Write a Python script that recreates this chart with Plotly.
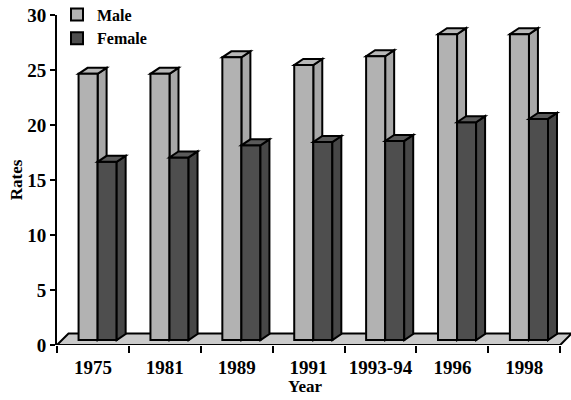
import plotly.graph_objects as go

years = ["1975", "1981", "1989", "1991", "1993-94", "1996", "1998"]
male = [24.2, 24.2, 25.7, 25.0, 25.8, 27.8, 27.8]
female = [16.2, 16.6, 17.7, 18.0, 18.1, 19.8, 20.1]

# 3D styling parameters (in axis units)
BASE = 0.45      # bars sit slightly back on the floor
BW = 0.265       # bar front width
M_OFF = -0.20    # male offset from category centre
F_OFF = 0.065    # female offset
BDX, BDY = 0.125, 0.55   # bar depth
FDX, FDY = 0.16, 1.05    # floor depth

MALE_C = "#b2b2b2"
FEM_C = "#4e4e4e"
FLOOR_C = "#cacaca"
LW = 2
SERIF = "Liberation Serif, Times New Roman, serif"

fig = go.Figure()
fig.add_trace(go.Bar(x=years, y=male, base=BASE, offset=M_OFF, width=BW, name="Male",
                     marker=dict(color=MALE_C, line=dict(color="black", width=LW))))
fig.add_trace(go.Bar(x=years, y=female, base=BASE, offset=F_OFF, width=BW, name="Female",
                     marker=dict(color=FEM_C, line=dict(color="black", width=LW))))

shapes = []
n = len(years)
# floor
shapes.append(dict(type="path", xref="x", yref="y", layer="below",
                   path=f"M {-0.5},0 L {n-0.5},0 L {n-0.5+FDX},{FDY} L {-0.5+FDX},{FDY} Z",
                   fillcolor=FLOOR_C, line=dict(color="black", width=LW)))

def faces(i, off, val, color, side_color, layer):
    x0 = i + off
    x1 = x0 + BW
    b = BASE
    t = BASE + val
    side = f"M {x1},{b} L {x1+BDX},{b+BDY} L {x1+BDX},{t+BDY} L {x1},{t} Z"
    top = f"M {x0},{t} L {x1},{t} L {x1+BDX},{t+BDY} L {x0+BDX},{t+BDY} Z"
    return [dict(type="path", xref="x", yref="y", layer=layer, path=side,
                 fillcolor=side_color, line=dict(color="black", width=LW)),
            dict(type="path", xref="x", yref="y", layer=layer, path=top,
                 fillcolor=color, line=dict(color="black", width=LW))]

for i in range(n):
    shapes += faces(i, M_OFF, male[i], "#b8b8b8", "#a8a8a8", "below")
for i in range(n):
    shapes += faces(i, F_OFF, female[i], "#5a5a5a", "#474747", "above")

tick_font = dict(family=SERIF, size=19, color="black", weight="bold")
leg_font = dict(family=SERIF, size=16, color="black", weight="bold")
title_font = dict(family=SERIF, size=17, color="black", weight="bold")

fig.update_layout(
    width=571, height=400,
    margin=dict(l=57, r=0, t=15, b=55, autoexpand=False),
    paper_bgcolor="white", plot_bgcolor="white",
    barmode="overlay",
    shapes=shapes,
    showlegend=True,
    legend=dict(x=0.0, y=1.053, xanchor="left", yanchor="top",
                font=leg_font, bgcolor="rgba(0,0,0,0)", tracegroupgap=0,
                itemwidth=30),
    xaxis=dict(type="category", categoryorder="array", categoryarray=years,
               range=[-0.5, n - 0.5 + 0.15], showline=False, showgrid=False,
               zeroline=False, ticks="outside", tickson="boundaries",
               ticklen=7, tickwidth=2, tickcolor="black", automargin=False,
               tickangle=0, tickfont=tick_font, ticklabelstandoff=9),
    yaxis=dict(range=[0, 30], dtick=5, showline=True, linewidth=2, linecolor="black",
               showgrid=False, zeroline=False, ticks="outside", ticklen=5,
               tickwidth=2, tickcolor="black", tickfont=tick_font, automargin=False,
               title=dict(text="Rates", font=title_font, standoff=0)),
    annotations=[dict(text="Year", xref="paper", yref="paper", x=0.482, y=-0.126,
                      xanchor="center", yanchor="middle", showarrow=False,
                      font=title_font)],
)

fig.write_html("out.html", config={"displayModeBar": False},
               post_script="document.body.style.margin='0';")
